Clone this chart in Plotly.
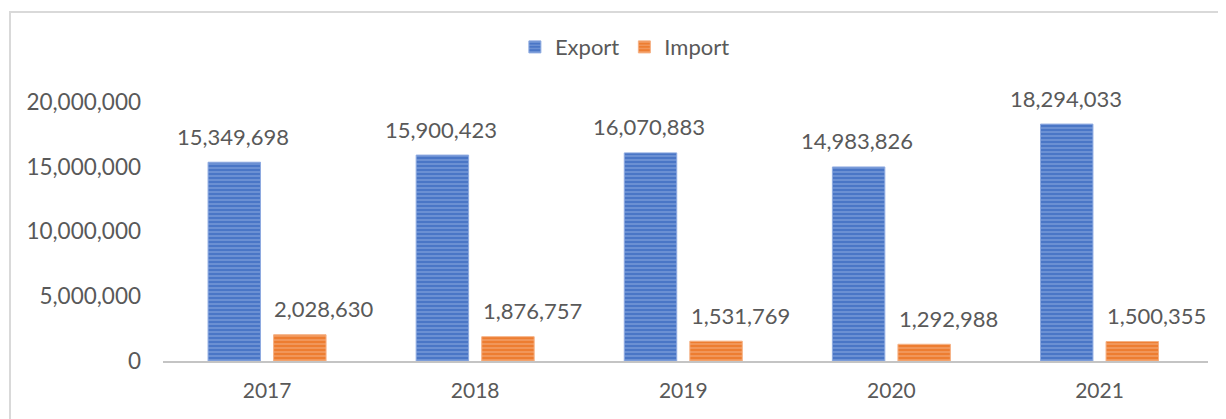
import plotly.graph_objects as go

years = ["2017", "2018", "2019", "2020", "2021"]
export_vals = [15349698, 15900423, 16070883, 14983826, 18294033]
import_vals = [2028630, 1876757, 1531769, 1292988, 1500355]
y_ticks = [0, 5000000, 10000000, 15000000, 20000000]

FONT = "Lato"
GREY = "#595959"
BLUE = "#4a76c6"
ORANGE = "#ED7D31"

fig = go.Figure()
fig.add_trace(go.Bar(
    name="Export", x=years, y=export_vals,
    marker=dict(color=BLUE, line=dict(color="#8eaae0", width=1),
                pattern=dict(shape="-", fgcolor="#a9bfe9", size=4, solidity=0.35)),
))
fig.add_trace(go.Bar(
    name="Import", x=years, y=import_vals,
    marker=dict(color=ORANGE, line=dict(color="#f5b083", width=1),
                pattern=dict(shape="-", fgcolor="#f8c6a3", size=4, solidity=0.35)),
))

annotations = []
for i, v in enumerate(export_vals):
    annotations.append(dict(x=i, y=v, xref="x", yref="y", text=f"{v:,}", showarrow=False,
                            xshift=-34, yshift=26, yanchor="middle",
                            font=dict(family=FONT, size=22, color=GREY)))
for i, v in enumerate(import_vals):
    annotations.append(dict(x=i, y=v, xref="x", yref="y", text=f"{v:,}", showarrow=False,
                            xshift=57, yshift=26, yanchor="middle",
                            font=dict(family=FONT, size=22, color=GREY)))

fig.update_layout(
    width=1226, height=419,
    margin=dict(l=155, r=26, t=94, b=66, autoexpand=False),
    paper_bgcolor="white", plot_bgcolor="white",
    barmode="group", bargap=0.37, bargroupgap=0.2,
    font=dict(family=FONT, size=22, color=GREY),
    showlegend=True,
    legend=dict(orientation="h", x=0.442, xanchor="center", y=1.212, yanchor="middle",
                font=dict(family=FONT, size=22, color=GREY), itemwidth=30,
                traceorder="normal"),
    annotations=annotations,
    xaxis=dict(type="category", showgrid=False, showline=True, linecolor="#c4c4c4",
               linewidth=2, ticks="", ticklabelstandoff=10,
               tickfont=dict(family=FONT, size=21, color=GREY)),
    yaxis=dict(range=[0, 20000000], tickvals=y_ticks,
               ticktext=[f"{t:,}" for t in y_ticks],
               showgrid=False, zeroline=False, showline=False, ticks="",
               ticklabelstandoff=21,
               tickfont=dict(family=FONT, size=22.5, color=GREY)),
    shapes=[dict(type="rect", xref="paper", yref="paper",
                 x0=-0.1464, x1=1.1, y0=-0.4, y1=1.3475,
                 line=dict(color="#d9d9d9", width=2), fillcolor="rgba(0,0,0,0)",
                 layer="below")],
)

fig.write_html("out.html")
